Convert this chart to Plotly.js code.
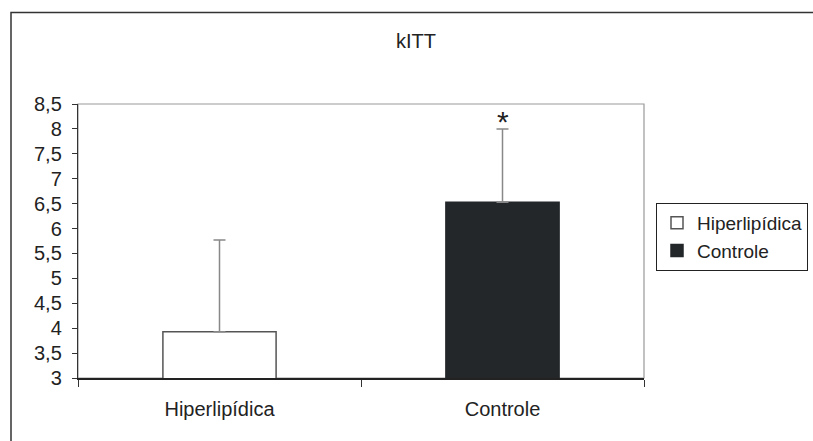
<!DOCTYPE html>
<html>
<head>
<meta charset="utf-8">
<script src="https://cdn.plot.ly/plotly-3.0.1.min.js"></script>
<style>html,body{margin:0;padding:0;background:#fff;}#chart{width:813px;height:441px;}</style>
</head>
<body>
<div id="chart"></div>
<script>
const categories = ["Hiperlipídica", "Controle"];
const means = [3.93, 6.53];
const errorsUp = [1.84, 1.47];
const seriesNames = ["Hiperlipídica", "Controle"];
const fillColors = ["#ffffff", "#23272a"];
const lineColors = ["#555555", "#23272a"];
const significance = ["", "*"];
const yTickVals = [3, 3.5, 4, 4.5, 5, 5.5, 6, 6.5, 7, 7.5, 8, 8.5];

const traces = categories.map((c, i) => ({
  type: "bar",
  name: seriesNames[i],
  x: [c],
  y: [means[i]],
  base: 0,
  width: 0.4,
  marker: {color: fillColors[i], line: {color: lineColors[i], width: 1.5}},
  error_y: {type: "data", symmetric: false, array: [errorsUp[i]], arrayminus: [0],
            color: "#888888", thickness: 1.5, width: 6},
  showlegend: true
}));

const annotations = categories.map((c, i) => ({
  x: c, y: means[i] + errorsUp[i], xref: "x", yref: "y",
  text: significance[i], showarrow: false, yanchor: "bottom", yshift: -11,
  font: {family: "Liberation Sans, Arial, sans-serif", size: 30, color: "#222"}
})).filter(a => a.text);

const layout = {
  width: 813, height: 441,
  margin: {l: 78, r: 169, t: 104, b: 63, autoexpand: false},
  paper_bgcolor: "#ffffff", plot_bgcolor: "#ffffff",
  separators: ", ",
  font: {family: "Liberation Sans, Arial, sans-serif", size: 20, color: "#222"},
  title: {text: "kITT", x: 416/813, xref: "container", xanchor: "center", y: 1 - 41/441, yanchor: "middle",
          font: {size: 20, color: "#222"}},
  barmode: "group",
  showlegend: true,
  legend: {x: (656-78)/566, y: (378-203)/274, xanchor: "left", yanchor: "top", bordercolor: "#222", borderwidth: 1,
           bgcolor: "#fff", font: {size: 19, color: "#222"}, tracegroupgap: 0, itemwidth: 30},
  xaxis: {type: "category", range: [-0.5, 1.5], showgrid: false, zeroline: false,
          showline: true, linecolor: "#222", linewidth: 1.5, ticks: "outside", tickson: "boundaries",
          ticklen: 7, tickcolor: "#333", tickfont: {size: 20}, ticklabelstandoff: 12},
  yaxis: {range: [3, 8.5], tickvals: yTickVals, tickformat: ".1~f", showgrid: false, zeroline: false,
          showline: true, linecolor: "#333", linewidth: 1.2, ticks: "outside", ticklen: 5,
          tickcolor: "#333", tickfont: {size: 20}, ticklabelstandoff: 6},
  shapes: [
    {type: "rect", xref: "paper", yref: "paper", x0: 0, x1: 1, y0: 0, y1: 1,
     line: {color: "#999", width: 1.2}, layer: "below"},
    {type: "rect", xref: "paper", yref: "paper", x0: (11-78)/566, x1: (860-78)/566,
     y0: (378-480)/274, y1: (378-12.5)/274, line: {color: "#333", width: 1.5}, layer: "below"}
  ],
  annotations: annotations
};

Plotly.newPlot("chart", traces, layout, {displayModeBar: false, staticPlot: true});
</script>
</body>
</html>
